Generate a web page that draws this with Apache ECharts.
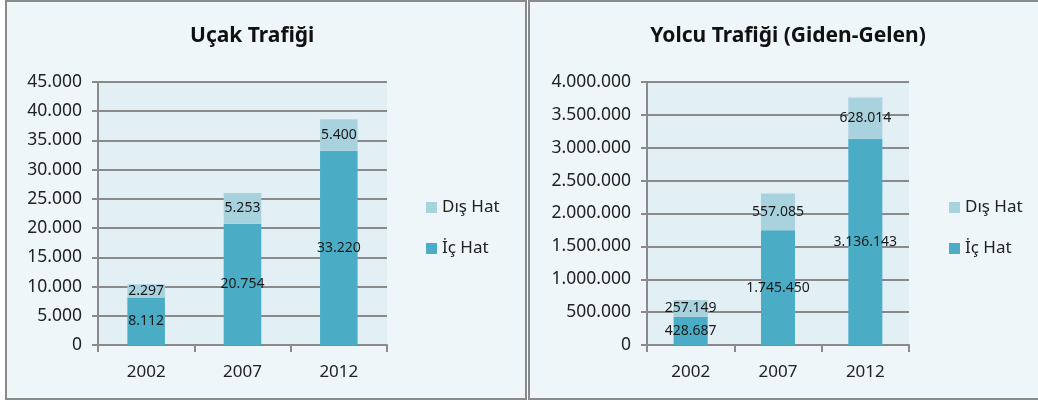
<!DOCTYPE html>
<html lang="tr">
<head>
<meta charset="UTF-8">
<title>Uçak ve Yolcu Trafiği</title>
<script src="https://cdn.jsdelivr.net/npm/echarts@6/dist/echarts.min.js"></script>
<style>
    body { margin: 0; background: #fff; width: 1038px; height: 401px; overflow: hidden; position: relative; }
    .panel { position: absolute; top: 0; height: 400px; box-sizing: border-box; border: 2px solid #8a8a8a; background: #eef6f9; }
    .panel .chart { width: 100%; height: 100%; }
</style>
</head>
<body>
<div class="panel" style="left:5px; width:522px;"><div class="chart" id="ucak"></div></div>
<div class="panel" style="left:528px; width:520px;"><div class="chart" id="yolcu"></div></div>
<script>
    var years = ['2002', '2007', '2012'];
    var ucakIc = [8112, 20754, 33220];
    var ucakDis = [2297, 5253, 5400];
    var yolcuIc = [428687, 1745450, 3136143];
    var yolcuDis = [257149, 557085, 628014];

    var fontFam = '"Noto Sans", "DejaVu Sans", sans-serif';

    // 1.234.567 style
    function fmt(v) {
        return String(v).replace(/\B(?=(\d{3})+(?!\d))/g, '.');
    }

    function makeOpt(title, titleLeft, ic, dis, grid, max, interval, legendLeft) {
        return {
            animation: false,
            textStyle: { fontFamily: fontFam },
            title: {
                text: title,
                left: titleLeft,
                top: 19,
                textStyle: { fontSize: 21, fontWeight: 'bold', color: '#111', fontFamily: fontFam }
            },
            legend: {
                orient: 'vertical',
                left: legendLeft,
                top: 192,
                itemWidth: 11,
                itemHeight: 11,
                itemGap: 24,
                icon: 'rect',
                data: ['Dış Hat', 'İç Hat'],
                textStyle: { fontSize: 17, color: '#222', fontFamily: fontFam }
            },
            grid: grid,
            xAxis: {
                type: 'category',
                data: years,
                axisLine: { lineStyle: { color: '#8a8a8a', width: 2 } },
                axisTick: { show: true, length: 7, lineStyle: { color: '#8a8a8a', width: 2 } },
                axisLabel: { fontSize: 17, color: '#222', margin: 19 }
            },
            yAxis: {
                type: 'value',
                min: 0,
                max: max,
                interval: interval,
                axisLine: { show: true, lineStyle: { color: '#8a8a8a', width: 2 } },
                axisTick: { show: true, length: 6, lineStyle: { color: '#8a8a8a', width: 2 } },
                splitLine: { lineStyle: { color: '#8a8a8a', width: 2 } },
                splitArea: { show: false },
                axisLabel: { fontSize: 17.5, color: '#222', margin: 16, formatter: fmt }
            },
            series: [
                {
                    name: 'İç Hat',
                    type: 'bar',
                    stack: 'toplam',
                    data: ic,
                    barWidth: '39%',
                    itemStyle: { color: '#4bacc6' },
                    label: { show: true, position: 'inside', fontSize: 14, color: '#1a1a1a', formatter: function (p) { return fmt(p.value); } }
                },
                {
                    name: 'Dış Hat',
                    type: 'bar',
                    stack: 'toplam',
                    data: dis,
                    barWidth: '39%',
                    itemStyle: { color: '#a9d2df' },
                    label: { show: true, position: 'inside', fontSize: 14, color: '#1a1a1a', formatter: function (p) { return fmt(p.value); } }
                }
            ]
        };
    }

    var ucakGrid = { left: 91, top: 80, width: 289, height: 263, containLabel: false, show: true, backgroundColor: '#e2eff5', borderWidth: 0 };
    var yolcuGrid = { left: 117, top: 80, width: 262, height: 263, containLabel: false, show: true, backgroundColor: '#e2eff5', borderWidth: 0 };

    echarts.init(document.getElementById('ucak')).setOption(
        makeOpt('Uçak Trafiği', 178, ucakIc, ucakDis, ucakGrid, 45000, 5000, 414));
    echarts.init(document.getElementById('yolcu')).setOption(
        makeOpt('Yolcu Trafiği (Giden-Gelen)', 'center', yolcuIc, yolcuDis, yolcuGrid, 4000000, 500000, 414));
</script>
</body>
</html>
